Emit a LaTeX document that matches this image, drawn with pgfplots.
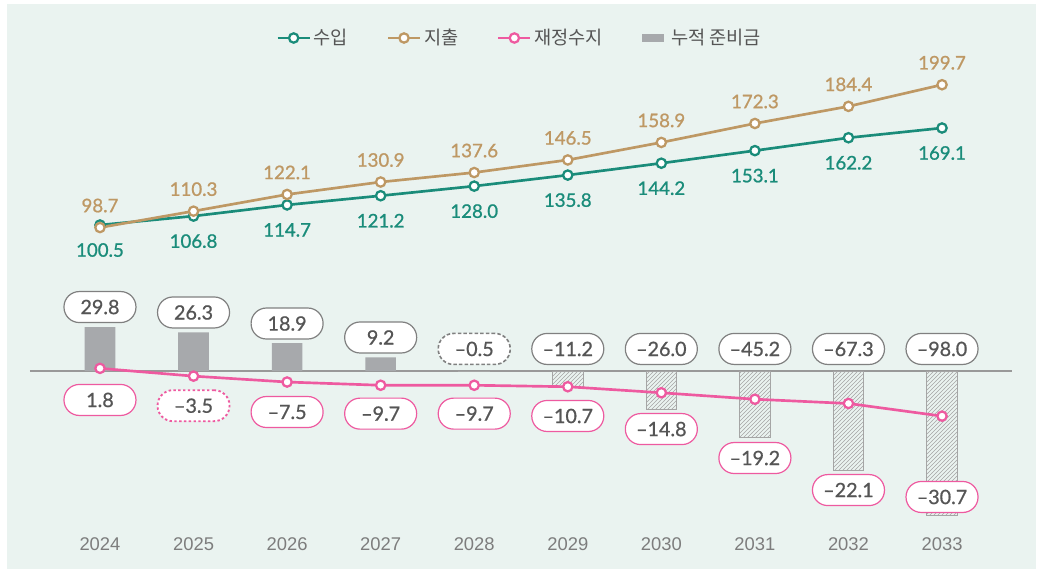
\documentclass[border=0pt]{standalone}
\usepackage{fontspec}
\usepackage{pgfplots}
\pgfplotsset{compat=1.18}
\usetikzlibrary{patterns}
\setmainfont{Lato}
\newfontfamily\latoM[FakeBold=0.8]{Lato}
\newfontfamily\latoS[FakeBold=1.0]{Lato}
\newfontfamily\kr{Noto Sans CJK KR}
\newfontfamily\yr{Liberation Sans}
\definecolor{bg}{RGB}{234,243,240}
\definecolor{rev}{RGB}{26,140,122}
\definecolor{expc}{RGB}{190,152,100}
\definecolor{bal}{RGB}{238,90,160}
\definecolor{bargray}{RGB}{167,169,172}
\definecolor{hatchc}{RGB}{165,165,165}
\definecolor{txt}{RGB}{85,85,85}
\definecolor{pillgray}{RGB}{128,128,128}
\definecolor{yearc}{RGB}{125,125,125}

\tikzset{
  pill/.style={draw=pillgray, fill=white, line width=0.9pt, rounded corners=11.5pt,
    minimum width=54pt, minimum height=23.25pt, inner sep=0pt, text=txt,
    font=\latoM\fontsize{14.8}{17}\selectfont, anchor=center},
  pillG/.style={pill},
  pillP/.style={pill, draw=bal},
}
\pgfplotsset{
  lineleg/.style={legend image code/.code={\draw[mark repeat=2,mark phase=2] plot coordinates {(0pt,0pt)(12pt,0pt)(24pt,0pt)};}},
  mk/.style={line width=2pt, mark=*, mark size=3.5pt, mark options={fill=white, line width=1.7pt}},
}

\begin{document}
\begin{tikzpicture}
\useasboundingbox (0pt,0pt) rectangle (780pt,426.75pt);
\fill[bg] (5.25pt,0pt) rectangle (777pt,423.75pt);

% ---------- upper axis: revenue & expense ----------
\begin{axis}[
  at={(39.9pt,231.75pt)}, anchor=south west,
  scale only axis, width=701.7pt, height=150pt,
  xmin=-0.5, xmax=9.5, ymin=75.75, ymax=217.19,
  enlargelimits=false, clip=false, hide axis,
  legend columns=4,
  legend style={at={(0.499,1)}, anchor=center, yshift=16.5pt, draw=none, fill=none,
    font=\kr\fontsize{14}{16}\selectfont, text=txt,
    /tikz/every even column/.append style={column sep=27pt}},
  legend cell align=left,
]
\addlegendimage{lineleg, rev, mk}
\addlegendentry{수입}
\addlegendimage{lineleg, expc, mk}
\addlegendentry{지출}
\addlegendimage{lineleg, bal, mk}
\addlegendentry{재정수지}
\addlegendimage{legend image code/.code={\fill[bargray, draw=none] (0pt,-2.8pt) rectangle (16.5pt,2.8pt); \path[draw=none, fill=none] (20pt,-1pt) rectangle (20pt,1pt);}}
\addlegendentry{누적 준비금}

\addplot[forget plot, rev, mk,
  nodes near coords={\pgfmathprintnumber[fixed,fixed zerofill,precision=1,assume math mode=true]{\pgfplotspointmeta}},
  every node near coord/.append style={font=\latoS\fontsize{14}{16}\selectfont, text=rev, anchor=center, yshift=-18.75pt}]
coordinates {(0,100.5)(1,106.8)(2,114.7)(3,121.2)(4,128.0)(5,135.8)(6,144.2)(7,153.1)(8,162.2)(9,169.1)};

\addplot[forget plot, expc, mk,
  nodes near coords={\pgfmathprintnumber[fixed,fixed zerofill,precision=1,assume math mode=true]{\pgfplotspointmeta}},
  every node near coord/.append style={font=\latoS\fontsize{14}{16}\selectfont, text=expc, anchor=center, yshift=16.5pt}]
coordinates {(0,98.7)(1,110.3)(2,122.1)(3,130.9)(4,137.6)(5,146.5)(6,158.9)(7,172.3)(8,184.4)(9,199.7)};
\end{axis}

% ---------- lower axis: reserve bars & balance ----------
\begin{axis}[
  at={(39.9pt,29.25pt)}, anchor=south west,
  scale only axis, width=701.7pt, height=187.5pt,
  xmin=-0.5, xmax=9.5, ymin=-108.16, ymax=61.90,
  enlargelimits=false, clip=false,
  axis x line*=bottom, axis y line=none,
  x axis line style={draw=none}, xtick style={draw=none},
  xtick={0,...,9},
  xticklabels={2024,2025,2026,2027,2028,2029,2030,2031,2032,2033},
  xticklabel style={font=\yr\fontsize{13.8}{16}\selectfont, text=yearc, anchor=center, yshift=-10.5pt},
  ytick=\empty,
]
\draw[color=black!40, line width=0.8pt] (axis cs:-0.75,0) -- (axis cs:9.75,0);

\addplot[ybar, bar width=23pt, bar shift=0pt, fill=bargray, draw=none]
coordinates {(0,29.8)(1,26.3)(2,18.9)(3,9.2)};
\addplot[ybar, bar width=23pt, bar shift=0pt, draw=hatchc, line width=0.6pt,
  pattern=north east lines, pattern color=hatchc]
coordinates {(4,-0.5)(5,-11.2)(6,-26.0)(7,-45.2)(8,-67.3)(9,-98.0)};

\addplot[bal, mk]
coordinates {(0,1.8)(1,-3.5)(2,-7.5)(3,-9.7)(4,-9.7)(5,-10.7)(6,-14.8)(7,-19.2)(8,-22.1)(9,-30.7)};

% reserve labels
\node[pillG] at (axis cs:0,43.5) {29.8};
\node[pillG] at (axis cs:1,39.8) {26.3};
\node[pillG] at (axis cs:2,32.3) {18.9};
\node[pillG] at (axis cs:3,22.8) {9.2};
\node[pillG, dash pattern=on 2.6pt off 1.6pt, line width=1.2pt] at (axis cs:4,15.0) {–0.5};
\node[pillG] at (axis cs:5,15.0) {–11.2};
\node[pillG] at (axis cs:6,15.0) {–26.0};
\node[pillG] at (axis cs:7,15.0) {–45.2};
\node[pillG] at (axis cs:8,15.0) {–67.3};
\node[pillG] at (axis cs:9,15.0) {–98.0};
% balance labels
\node[pillP] at (axis cs:0,-19.7) {1.8};
\node[pillP, dash pattern=on 1.8pt off 1.8pt, line width=1.4pt] at (axis cs:1,-23.6) {–3.5};
\node[pillP] at (axis cs:2,-27.9) {–7.5};
\node[pillP] at (axis cs:3,-29.0) {–9.7};
\node[pillP] at (axis cs:4,-29.0) {–9.7};
\node[pillP] at (axis cs:5,-30.6) {–10.7};
\node[pillP] at (axis cs:6,-39.5) {–14.8};
\node[pillP] at (axis cs:7,-59.2) {–19.2};
\node[pillP] at (axis cs:8,-81.0) {–22.1};
\node[pillP] at (axis cs:9,-85.7) {–30.7};
\end{axis}
\end{tikzpicture}
\end{document}
